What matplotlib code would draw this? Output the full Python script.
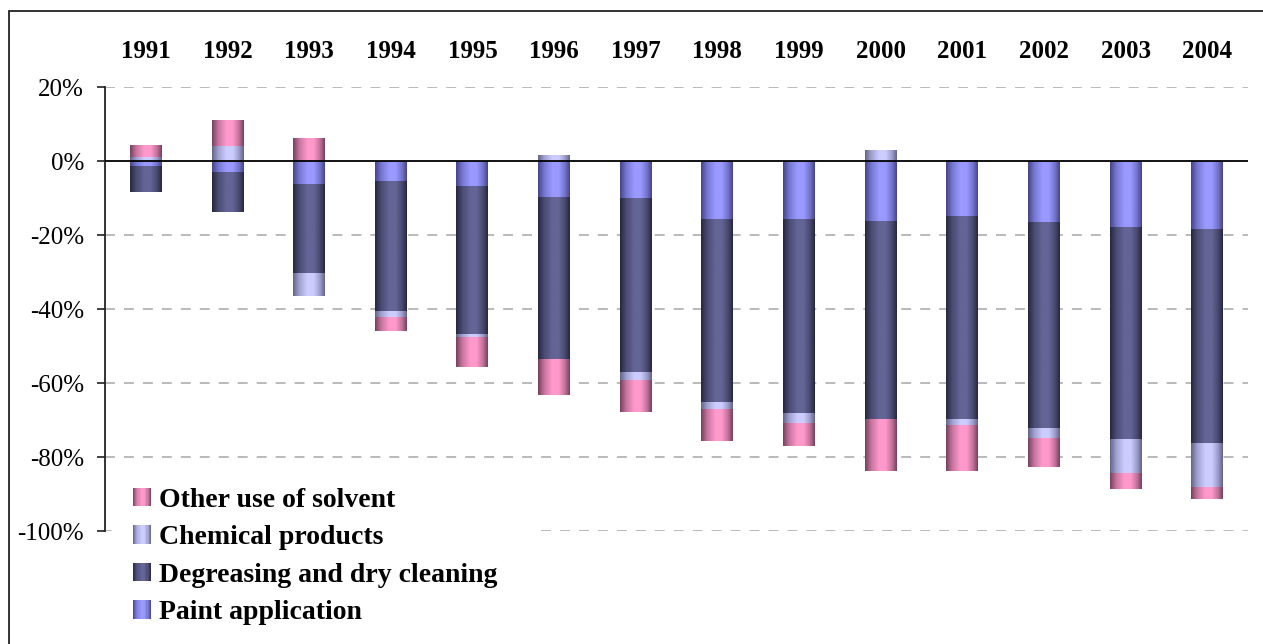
import numpy as np
import matplotlib
matplotlib.use("Agg")
import matplotlib.pyplot as plt
from matplotlib.colors import LinearSegmentedColormap, to_rgb
from matplotlib.patches import Patch, Rectangle
from matplotlib.legend_handler import HandlerBase
from matplotlib.ticker import FixedLocator, FixedFormatter

# ---------------- data ----------------
years = ["1991", "1992", "1993", "1994", "1995", "1996", "1997",
         "1998", "1999", "2000", "2001", "2002", "2003", "2004"]
paint = [-1.5, -3.2, -6.4, -5.6, -6.7, -9.9, -10.2, -15.6, -15.9, -16.3, -15.0, -16.4, -18.0, -18.3]
degreasing = [-6.9, -10.7, -23.8, -34.9, -40.0, -43.8, -46.8, -49.7, -52.2, -53.6, -54.9, -55.9, -57.3, -58.1]
chemical = [1.1, 4.1, -6.2, -1.8, -0.8, 1.4, -2.4, -1.9, -2.7, 2.8, -1.5, -2.7, -9.2, -11.9]
other = [3.1, 6.8, 6.0, -3.6, -8.1, -9.5, -8.4, -8.4, -6.1, -13.8, -12.3, -7.8, -4.1, -3.0]

series_names = ["Paint application", "Degreasing and dry cleaning",
                "Chemical products", "Other use of solvent"]
y_ticks = [20, 0, -20, -40, -60, -80, -100]
y_labels = ["20%", "0%", "-20%", "-40%", "-60%", "-80%", "-100%"]

# ---------------- styles ----------------
edge_cols = ["#44448a", "#262640", "#62628a", "#74405c"]
mid_cols = ["#9999ff", "#646496", "#ccccff", "#ff99cc"]

W, H, DPI = 1263, 644, 100
fig = plt.figure(figsize=(W / DPI, H / DPI), dpi=DPI)
ax = fig.add_axes([105 / W, 1 - 531 / H, (1248 - 105) / W, (531 - 87) / H])

serif = ["Liberation Serif", "DejaVu Serif"]


def make_cmap(edge, mid):
    e = np.array(to_rgb(edge)); m = np.array(to_rgb(mid))
    stops = [(0.0, e), (0.2, 0.4 * e + 0.6 * m), (0.45, m), (0.65, m),
             (0.85, 0.45 * e + 0.55 * m), (1.0, e)]
    return LinearSegmentedColormap.from_list("g", [(p, tuple(c)) for p, c in stops])


class GradHandler(HandlerBase):
    def __init__(self, cmap, n=16):
        super().__init__()
        self.cmap = cmap
        self.n = n

    def create_artists(self, legend, orig_handle, xdescent, ydescent,
                       width, height, fontsize, trans):
        arts = []
        sw = width / self.n
        for i in range(self.n):
            r = Rectangle((-xdescent + i * sw, -ydescent), sw * 1.05, height,
                          facecolor=self.cmap((i + 0.5) / self.n),
                          edgecolor="none", transform=trans)
            arts.append(r)
        return arts


x = np.arange(len(years))
width = 0.39
data = [paint, degreasing, chemical, other]
pos_bottom = np.zeros(len(years))
neg_bottom = np.zeros(len(years))
grad = np.linspace(0, 1, 256).reshape(1, -1)
cmaps = []

for vals, name, ec, mc in zip(data, series_names, edge_cols, mid_cols):
    vals = np.array(vals, dtype=float)
    bottoms = np.where(vals >= 0, pos_bottom, neg_bottom)
    bars = ax.bar(x, vals, width, bottom=bottoms, color=mc, linewidth=0,
                  zorder=2, label=name)
    cmap = make_cmap(ec, mc)
    cmaps.append(cmap)
    for b in bars:
        bx, by, bw, bh = b.get_x(), b.get_y(), b.get_width(), b.get_height()
        if bh == 0:
            continue
        ax.imshow(grad, extent=[bx, bx + bw, by, by + bh], cmap=cmap,
                  aspect="auto", zorder=2.1, interpolation="bilinear")
    pos_bottom = pos_bottom + np.where(vals > 0, vals, 0)
    neg_bottom = neg_bottom + np.where(vals < 0, vals, 0)

ax.set_xlim(-0.5, len(years) - 0.5)
ax.set_ylim(-100, 20)

# axes styling
for s in ["top", "right", "bottom"]:
    ax.spines[s].set_visible(False)
ax.spines["left"].set_linewidth(1.3)
ax.spines["left"].set_color("#222222")
ax.yaxis.set_major_locator(FixedLocator(y_ticks))
ax.yaxis.set_major_formatter(FixedFormatter(y_labels))
ax.tick_params(axis="y", length=6, width=1.3, color="#333333", pad=9,
               labelsize=18)
for lab in ax.get_yticklabels():
    lab.set_fontfamily(serif)
ax.set_xticks([])

# gridlines
for yv in y_ticks:
    if yv == 0:
        continue
    ax.axhline(yv, color="#b4b4b4", linestyle=(0, (5.5, 5)), linewidth=1.3, zorder=1)
ax.axhline(0, color="black", linewidth=1.3, zorder=3)

# year labels at top
for xi, yr in zip(x, years):
    ax.text(xi, 1.0646, yr, transform=ax.get_xaxis_transform(), ha="center",
            va="baseline", fontsize=18, fontweight="bold", family=serif)

# legend
order = [3, 2, 1, 0]
handles = [Patch(facecolor=mid_cols[i], edgecolor="none") for i in order]
labels = [series_names[i] for i in order]
hmap = {h: GradHandler(cmaps[i]) for h, i in zip(handles, order)}
leg = fig.legend(handles, labels, loc="upper left", handler_map=hmap,
                 bbox_to_anchor=(112 / W, 1 - 627 / H, (535 - 112) / W, 160 / H),
                 bbox_transform=fig.transFigure, mode="expand", borderaxespad=0,
                 frameon=True, fancybox=False, framealpha=1, edgecolor="white",
                 facecolor="white", prop={"family": serif, "weight": "bold", "size": 20},
                 handlelength=0.65, handleheight=0.65, handletextpad=0.3,
                 labelspacing=0.45, borderpad=0.75)

# outer frame
fig.patches.append(Rectangle((9 / W, -0.05), 1.1, 1 - 11 / H + 0.05,
                             transform=fig.transFigure, fill=False,
                             edgecolor="#222222", linewidth=1.3))

fig.savefig("out.png", dpi=DPI)
